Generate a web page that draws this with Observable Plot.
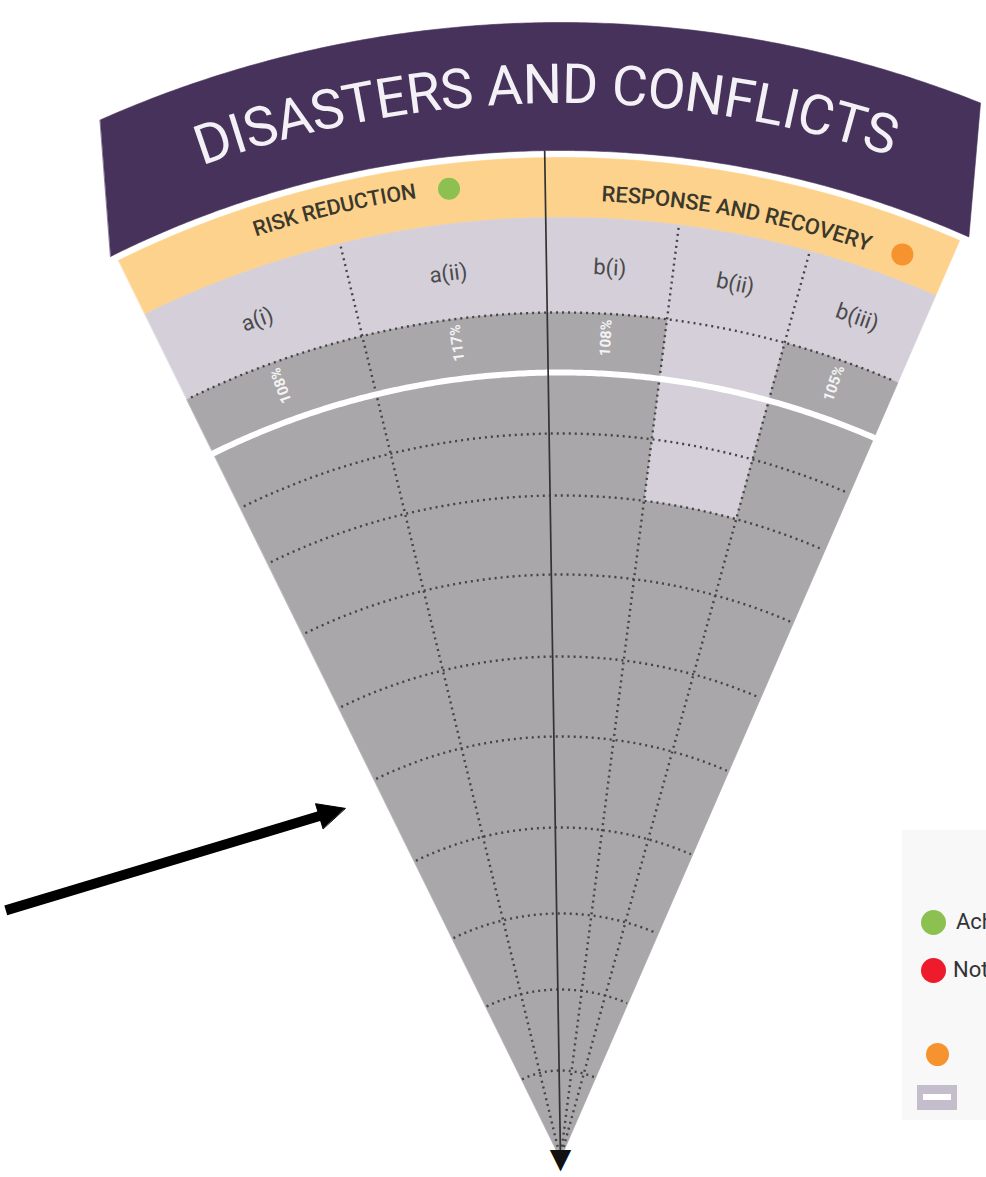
<!DOCTYPE html>
<html>
<head>
<meta charset="utf-8">
<script src="https://cdn.jsdelivr.net/npm/d3@7"></script>
<script src="https://cdn.jsdelivr.net/npm/@observablehq/plot@0.6"></script>
<style>
html, body { margin: 0; padding: 0; background: #fff; overflow: hidden; }
#wrap { position: relative; width: 986px; height: 1177px; overflow: hidden; }
#wrap svg { position: absolute; left: 0; top: 0; }
#legend { position: absolute; left: 902px; top: 830px; width: 84px; height: 290px; background: #f8f8f8;
  font-family: Roboto, sans-serif; font-size: 22px; color: #333; overflow: hidden; }
.sw { position: absolute; border-radius: 50%; }
.lt { position: absolute; white-space: nowrap; line-height: 26px; }
</style>
</head>
<body>
<div id="wrap"></div>
<script>
// ---------------- DATA ----------------
const titleText = "DISASTERS AND CONFLICTS";
const groups = ["RISK REDUCTION", "RESPONSE AND RECOVERY"];
const groupStatus = ["Achieved", "In progress"];
const categories = ["a(i)", "a(ii)", "b(i)", "b(ii)", "b(iii)"];
const categoryGroup = [0, 0, 1, 1, 1];
const values = [108, 117, 108, 80, 105];          // % of target
const gridLevels = [10, 20, 30, 40, 50, 60, 70, 80, 90];
const targetLevel = 100;
const legendLabels = ["Achieved", "Not achieved", "In progress", "No data"];
const legendColors = ["#8cc152", "#ee1b2d", "#f7932f", "#c4bdcc"];
// annotation arrow (polar: percent radius, degrees clockwise from up)
const arrowFrom = { r: 73.0, t: -65.9 };
const arrowTo = { r: 48.8, t: -31.6 };

// ---------------- LAYOUT ----------------
const W = 986, H = 1177, AX = 560, AY = 1158;
const C = { banner: "#46325a", orange: "#fdd28d", lav: "#d4cfd9", gray: "#a9a7a9", grid: "#454545" };
// radial scale (percent -> px), rings of the drawing
const rScale = d3.scaleLinear()
  .domain([0, 10, 20, 30, 40, 50, 60, 70, 80, 90, 100, 108, 120, 127.5, 128.5, 145])
  .range([0, 88, 169, 245, 331, 422, 502, 584, 663, 725, 786, 846, 941, 1001, 1008, 1136]);
const overflowTop = 108, labelTop = 120, orangeTop = 127.5, bannerIn = 128.5, bannerOut = 145;
const wedge = [-26.2, 23.5], mid = -0.9;
const groupRange = [[wedge[0], mid], [mid, wedge[1]]];

function pt(t, r) { const R = rScale(r), a = t * Math.PI / 180; return [R * Math.sin(a), R * Math.cos(a)]; }
function arcPts(t0, t1, r) {
  const n = Math.max(2, Math.ceil(Math.abs(t1 - t0) / 0.25));
  return d3.range(n + 1).map(i => pt(t0 + (t1 - t0) * i / n, r));
}
function sectorPts(t0, t1, r0, r1) {
  return arcPts(t0, t1, r1).concat(r0 > 0 ? arcPts(t1, t0, r0) : [[0, 0]]);
}

const cols = categories.map((name, i) => {
  const g = categoryGroup[i];
  const members = categories.filter((_, j) => categoryGroup[j] === g);
  const k = members.indexOf(name);
  const [g0, g1] = groupRange[g];
  const w = (g1 - g0) / members.length;
  return { name, value: values[i], g, t0: g0 + k * w, t1: g0 + (k + 1) * w, tc: g0 + (k + 0.5) * w, last: k === members.length - 1 };
});

// polygons
const polys = [];
function addPoly(id, fill, pts) { pts.forEach(([x, y]) => polys.push({ id, fill, x, y })); }
addPoly("banner", C.banner, arcPts(-23.9, 21.7, bannerOut).concat(arcPts(23.9, -26.5, bannerIn)));
addPoly("orange", C.orange, sectorPts(wedge[0], wedge[1], labelTop, orangeTop));
addPoly("bg", C.lav, sectorPts(wedge[0], wedge[1], 0, labelTop));
cols.forEach(c => addPoly("bar-" + c.name, C.gray, sectorPts(c.t0, c.t1, 0, c.value >= targetLevel ? overflowTop : c.value)));

// grid arcs
const gridRows = [];
gridLevels.concat([overflowTop]).forEach(l => arcPts(wedge[0] + 0.3, wedge[1] - 0.3, l).forEach(([x, y]) => gridRows.push({ l, x, y })));
const targetArc = arcPts(wedge[0], wedge[1], targetLevel).map(([x, y]) => ({ x, y }));

// dividers
const dividers = cols.filter(c => !c.last).map(c => { const [x2, y2] = pt(c.t1, labelTop); return { x1: 0, y1: 0, x2, y2 }; });
const centerLine = [(() => { const [x2, y2] = pt(mid, bannerIn); return { x1: 0, y1: 0, x2, y2 }; })()];

// labels
const pctLabels = cols.filter(c => c.value >= targetLevel).map(c => { const [x, y] = pt(c.tc, 104.8); return { x, y, text: c.value + "%", rot: c.tc - 90 }; });
const catLabels = cols.map(c => { const [x, y] = pt(c.tc, 113.8); return { x, y, text: c.name, rot: c.tc }; });

const ctx = document.createElement("canvas").getContext("2d");
function curved(str, r, center, width, weight) {
  ctx.font = `${weight} 100px Roboto`;
  const chars = [...str];
  const ws = chars.map(ch => ctx.measureText(ch).width);
  const size = 100 * width / d3.sum(ws);
  const R = rScale(r);
  let acc = 0;
  const rows = chars.map((ch, i) => {
    const w = ws[i] * size / 100;
    const off = acc + w / 2 - width / 2; acc += w;
    const t = center + off / R * 180 / Math.PI;
    const [x, y] = pt(t, r);
    return { ch, x, y, t };
  });
  const endT = center + (width / 2) / R * 180 / Math.PI;
  return { rows, size, endT };
}
const titleC = curved(titleText, 136.9, -0.8, 713, 400);
const g0C = curved(groups[0], 124.6, (groupRange[0][0] + groupRange[0][1]) / 2 + 0.15, 167, 500);
const g1C = curved(groups[1], 123.0, (groupRange[1][0] + groupRange[1][1]) / 2 - 0.7, 275, 500);
const statusColor = s => legendColors[legendLabels.indexOf(s)];
const groupDots = [[g0C, 124.4], [g1C, 123.2]].map(([gc, r], i) => { const [x, y] = pt(gc.endT + 1.95, r); return { x, y, fill: statusColor(groupStatus[i]) }; });

// arrow geometry
const [ax1, ay1] = pt(arrowFrom.t, arrowFrom.r);
const [ax2, ay2] = pt(arrowTo.t, arrowTo.r);
const len = Math.hypot(ax2 - ax1, ay2 - ay1), ux = (ax2 - ax1) / len, uy = (ay2 - ay1) / len;
const headL = 27, headW = 13;
const bx = ax2 - ux * headL, by = ay2 - uy * headL;
const arrowShaft = [{ x1: ax1, y1: ay1, x2: bx + ux * 2, y2: by + uy * 2 }];
const arrowHead = [[ax2, ay2], [bx - uy * headW, by + ux * headW], [bx + uy * headW, by - ux * headW]].map(([x, y]) => ({ x, y }));

const textCommon = { x: "x", y: "y", textAnchor: "middle", lineAnchor: "middle", fontFamily: "Roboto" };

const chart = Plot.plot({
  width: W, height: H, margin: 0,
  x: { domain: [-AX, W - AX], axis: null },
  y: { domain: [AY - H, AY], axis: null },
  color: { type: "identity" },
  style: { background: "transparent", fontFamily: "Roboto" },
  marks: [
    Plot.line(polys, { x: "x", y: "y", z: "id", fill: "fill", stroke: "fill", strokeWidth: 0.6, curve: "linear-closed" }),
    Plot.line(gridRows, { x: "x", y: "y", z: "l", stroke: C.grid, strokeWidth: 2.4, strokeDasharray: "2,4", strokeLinecap: "butt" }),
    Plot.link(dividers, { x1: "x1", y1: "y1", x2: "x2", y2: "y2", stroke: C.grid, strokeWidth: 2.4, strokeDasharray: "2,4", strokeLinecap: "butt" }),
    Plot.line(targetArc, { x: "x", y: "y", stroke: "#ffffff", strokeWidth: 6 }),
    Plot.link(centerLine, { x1: "x1", y1: "y1", x2: "x2", y2: "y2", stroke: "#333", strokeWidth: 1.7 }),
    Plot.text(pctLabels, { ...textCommon, text: "text", rotate: "rot", fill: "#f3f3f3", fontSize: 15, fontWeight: "bold" }),
    Plot.text(catLabels, { ...textCommon, text: "text", rotate: "rot", fill: "#4a4a4a", fontSize: 22 }),
    Plot.text(titleC.rows, { ...textCommon, text: "ch", rotate: "t", fill: "#f4f1f6", fontSize: titleC.size, fontWeight: 400 }),
    Plot.text(g0C.rows, { ...textCommon, text: "ch", rotate: "t", fill: "#3b382c", fontSize: g0C.size, fontWeight: 500 }),
    Plot.text(g1C.rows, { ...textCommon, text: "ch", rotate: "t", fill: "#3b382c", fontSize: g1C.size, fontWeight: 500 }),
    Plot.dot(groupDots, { x: "x", y: "y", r: 11, fill: "fill", stroke: null }),
    Plot.text([0], { x: () => 0, y: () => 0, text: () => "▼", fill: "#111", fontSize: 28, fontFamily: "DejaVu Sans", lineAnchor: "middle", dy: 1 }),
    Plot.link(arrowShaft, { x1: "x1", y1: "y1", x2: "x2", y2: "y2", stroke: "#000", strokeWidth: 10, strokeLinecap: "butt" }),
    Plot.line(arrowHead, { x: "x", y: "y", fill: "#000", stroke: "#000", strokeWidth: 1, curve: "linear-closed" })
  ]
});
const wrap = document.getElementById("wrap");
wrap.appendChild(chart);

// legend (partially cut off at the right edge, as in the reference)
const legend = document.createElement("div");
legend.id = "legend";
const items = [
  { sw: `left:19px;top:80px;width:25px;height:25px;background:${legendColors[0]}`, tx: "left:54px;top:79px" },
  { sw: `left:19px;top:128px;width:25px;height:25px;background:${legendColors[1]}`, tx: "left:51px;top:127px" },
  { sw: `left:24px;top:213px;width:23px;height:23px;background:${legendColors[2]}`, tx: "left:83px;top:211px" }
];
let html = "";
items.forEach((it, i) => {
  html += `<div class="sw" style="${it.sw}"></div><div class="lt" style="${it.tx}">${legendLabels[i]}</div>`;
});
html += `<div style="position:absolute;left:15px;top:255px;width:40px;height:25px;background:${legendColors[3]}"><div style="position:absolute;left:6px;top:9px;width:28px;height:6px;background:#fff"></div></div>`;
legend.innerHTML = html;
wrap.appendChild(legend);
</script>
</body>
</html>
